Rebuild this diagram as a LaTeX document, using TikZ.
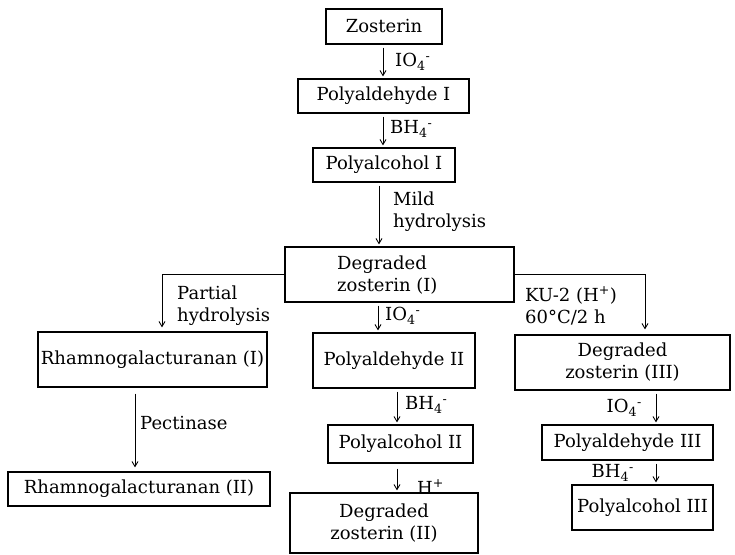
\documentclass[tikz,border=0pt]{standalone}
\usepackage{fontspec}
\setmainfont{DejaVu Serif}
\usetikzlibrary{arrows.meta}
\newcommand\fsz{\fontsize{18}{22}\selectfont}
\begin{document}
\begin{tikzpicture}[x=1pt,y=-1pt,
  bx/.style={draw, line width=1.3pt, inner sep=0pt, font=\fsz},
  arr/.style={line width=0.9pt, -{Straight Barb[length=5pt,width=6pt]}, shorten <=3pt, shorten >=2pt},
  lbl/.style={font=\fsz, inner sep=0pt, anchor=west, align=left}]
\useasboundingbox (0,0) rectangle (735,554);
% boxes
\node[bx, minimum width=116, minimum height=35] (zos) at (384,26.5) {Zosterin};
\node[bx, minimum width=171, minimum height=34] (pa1) at (383.5,96) {Polyaldehyde I};
\node[bx, minimum width=142, minimum height=34] (pol1) at (384,165) {Polyalcohol I};
\node[bx, minimum width=229, minimum height=55] (dz1) at (399.5,274.5) {};
\node[lbl] (t1) at (337,275) {Degraded\\zosterin (I)};
\node[bx, minimum width=229, minimum height=55] (rg1) at (152.5,359.5) {Rhamnogalacturanan (I)};
\node[bx, minimum width=262, minimum height=34] (rg2) at (139,489) {Rhamnogalacturanan (II)};
\node[bx, minimum width=162, minimum height=55] (pa2) at (394,360.5) {Polyaldehyde II};
\node[bx, minimum width=145, minimum height=38] (pol2) at (400.5,444) {Polyalcohol II};
\node[bx, minimum width=188, minimum height=60, align=center] (dz2) at (384,523) {Degraded\\zosterin (II)};
\node[bx, minimum width=215, minimum height=55, align=center] (dz3) at (622.5,362.5) {Degraded\\zosterin (III)};
\node[bx, minimum width=171, minimum height=35] (pa3) at (627.5,442.5) {Polyaldehyde III};
\node[bx, minimum width=141, minimum height=45] (pol3) at (642.5,507.5) {Polyalcohol III};
% connectors
\draw[arr] (zos.south -| 383,0) -- (pa1.north -| 383,0);
\draw[arr] (pa1.south -| 383,0) -- (pol1.north -| 383,0);
\draw[arr] (pol1.south -| 379,0) -- (dz1.north -| 379,0);
\draw[arr, shorten <=0pt, shorten >=4pt] (dz1.west) -| (rg1.north -| 162,0);
\draw[arr, shorten <=0pt, shorten >=5pt] (dz1.east) -| (dz3.north -| 645,0);
\draw[arr] (dz1.south -| 378,0) -- (pa2.north -| 378,0);
\draw[arr] (pa2.south -| 397,0) -- (pol2.north -| 397,0);
\draw[arr, shorten <=5pt] (pol2.south -| 397,0) -- (dz2.north -| 397,0);
\draw[arr, shorten <=6pt, shorten >=4pt] (rg1.south -| 135,0) -- (rg2.north -| 135,0);
\draw[arr] (dz3.south -| 656,0) -- (pa3.north -| 656,0);
\draw[arr] (pa3.south -| 656,0) -- (pol3.north -| 656,0);
% labels
\node[lbl] (l1) at (395,62) {IO\textsubscript{4}\textsuperscript{-}};
\node[lbl] (l2) at (390,129) {BH\textsubscript{4}\textsuperscript{-}};
\node[lbl] (l3) at (393,212) {Mild\\hydrolysis};
\node[lbl] (l4) at (177,306) {Partial\\hydrolysis};
\node[lbl] (l5) at (525,306) {KU-2 (H\textsuperscript{+})\\60°C/2 h};
\node[lbl] (l6) at (385,316) {IO\textsubscript{4}\textsuperscript{-}};
\node[lbl] (l7) at (140,423) {Pectinase};
\node[lbl] (l8) at (405,405) {BH\textsubscript{4}\textsuperscript{-}};
\node[lbl] (l9) at (417,487) {H\textsuperscript{+}};
\node[lbl, anchor=east] (l10) at (642,408) {IO\textsubscript{4}\textsuperscript{-}};
\node[lbl, anchor=east] (l11) at (634,473) {BH\textsubscript{4}\textsuperscript{-}};
\end{tikzpicture}
\end{document}
